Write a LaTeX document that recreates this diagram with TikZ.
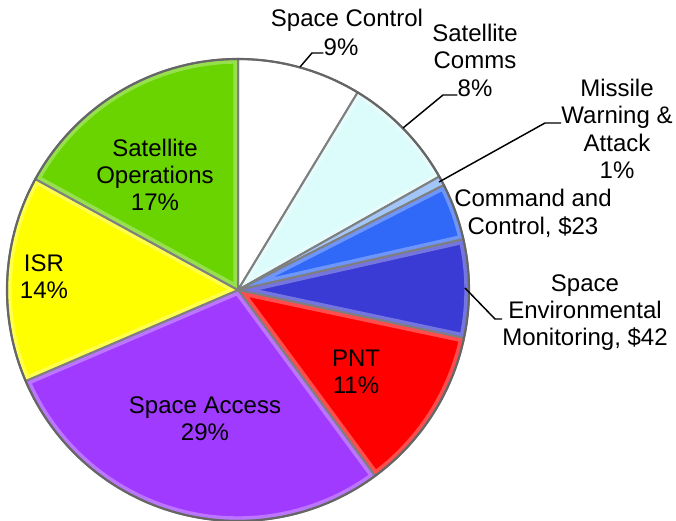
\documentclass[tikz,border=0pt]{standalone}
\usepackage{fontspec}
\setmainfont{Liberation Sans}
\usetikzlibrary{positioning}

\definecolor{commscyan}{HTML}{DCFCFC}
\definecolor{warnblue}{HTML}{7AAEF6}
\definecolor{cmdblue}{HTML}{3068F8}
\definecolor{envblue}{HTML}{3A3AD4}
\definecolor{pntred}{HTML}{FF0000}
\definecolor{accpurple}{HTML}{A03AFF}
\definecolor{isryellow}{HTML}{FFFF00}
\definecolor{opsgreen}{HTML}{6AD400}
\definecolor{rimgray}{HTML}{7F7F7F}

\tikzset{
  lbl/.style={align=center, inner sep=0pt, font=\fontsize{18}{20.5}\selectfont},
  leader/.style={draw=black, line width=1.1pt},
}

\begin{document}
\begin{tikzpicture}[x=0.75pt, y=0.75pt]
\useasboundingbox (0,0) rectangle (676,521);

\coordinate (O) at (238,231);

% slices, clockwise from the top
\foreach \a/\b/\col in {90/58.8/white, 58.8/29.4/commscyan, 29.4/27/warnblue,
    27/12.7/cmdblue, 12.7/-12/envblue, -12/-53.6/pntred,
    -53.6/-156.8/accpurple, 203.2/151.3/isryellow, 151.3/90/opsgreen}
{
  \fill[\col] (O) -- ++(\a:231) arc[start angle=\a, end angle=\b, radius=231] -- cycle;
  % bevel
  \begin{scope}
    \clip (O) -- ++(\a:231) arc[start angle=\a, end angle=\b, radius=231] -- cycle;
    \draw[white, opacity=0.3, line width=7pt]
      (O) -- ++(\a:231) arc[start angle=\a, end angle=\b, radius=231] -- cycle;
  \end{scope}
  \draw[rimgray, line width=1.5pt, line join=round]
    (O) -- ++(\a:231) arc[start angle=\a, end angle=\b, radius=231] -- cycle;
}
\draw[black!60, line width=1.6pt] (O) circle[radius=231];

% labels inside
\node[lbl] (opslab) at (155,346) {Satellite\\Operations\\17\%};
\node[lbl] (isrlab) at (44,244.5) {ISR\\14\%};
\node[lbl] (acclab) at (205,102) {Space Access\\29\%};
\node[lbl] (pntlab) at (356,149.5) {PNT\\11\%};

% labels outside
\node[lbl] (ctrlname) at (347,501) {Space Control};
\node[lbl] (ctrlpct) at (341,474) {9\%};
\node[lbl] (commsname) at (475,474.5) {Satellite\\Comms};
\node[lbl] (commspct) at (475,433) {8\%};
\node[lbl] (warnlab) at (617,392) {Missile\\Warning \&\\Attack\\1\%};
\node[lbl] (cmdlab) at (533,307.5) {Command and\\Control, \$23};
\node[lbl] (envlab) at (585,208.5) {Space\\Environmental\\Monitoring, \$42};

% leader lines
\coordinate (ctrltip) at (300,454);
\coordinate (ctrlbend) at (312,468);
\coordinate (commstip) at (403,393);
\coordinate (commsbend) at (443,426);
\coordinate (warntip) at (439,339);
\coordinate (warnbend) at (545,398);
\coordinate (envtip) at (465,233);
\coordinate (envbend) at (495,202);

\draw[leader] (ctrltip) -- (ctrlbend) -- (ctrlbend -| ctrlpct.west);
\draw[leader] (commstip) -- (commsbend) -- (commsbend -| commspct.west);
\draw[leader] (warntip) -- (warnbend) -- (warnbend -| warnlab.west);
\draw[leader] (envtip) -- (envbend) -- (envbend -| envlab.west);

\end{tikzpicture}
\end{document}
